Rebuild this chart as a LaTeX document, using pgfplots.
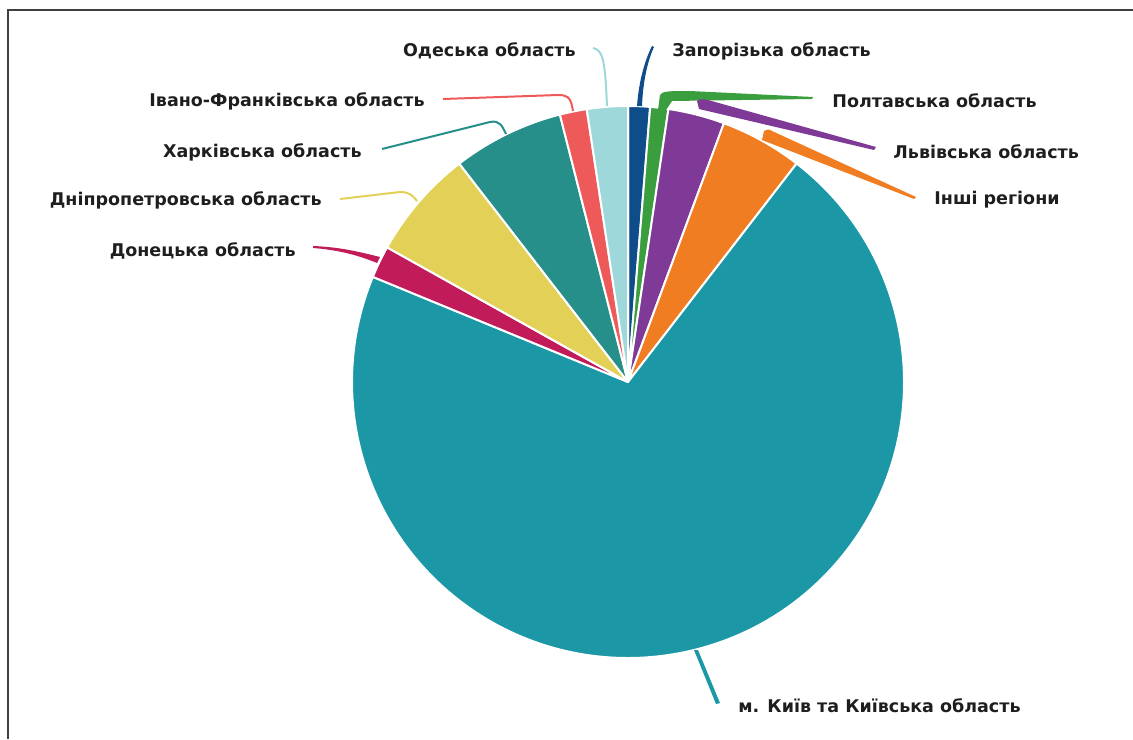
\documentclass[border=0pt]{standalone}
\usepackage{pgfplots}
\pgfplotsset{compat=1.18}
\usepackage{pgfplotstable}
\usepackage{fontspec}
\setmainfont{DejaVu Sans}
\definecolor{cZap}{HTML}{0F4C8A}
\definecolor{cPolt}{HTML}{3A9E3F}
\definecolor{cLviv}{HTML}{7E3A96}
\definecolor{cOther}{HTML}{F07D22}
\definecolor{cKyiv}{HTML}{1B97A6}
\definecolor{cDon}{HTML}{C11B5A}
\definecolor{cDnipro}{HTML}{E2D156}
\definecolor{cKhar}{HTML}{268F8A}
\definecolor{cIF}{HTML}{EE5A5A}
\definecolor{cOdesa}{HTML}{9ED8DA}
\definecolor{txt}{HTML}{1E1E1E}
\pgfplotstableread{
share colour
1.28  cZap
1.06  cPolt
3.31  cLviv
4.81  cOther
70.76 cKyiv
1.89  cDon
6.42  cDnipro
6.50  cKhar
1.58  cIF
2.39  cOdesa
}\piedata
\begin{document}
\begin{tikzpicture}
\begin{axis}[
  hide axis, scale only axis, clip=false,
  width=566.5pt, height=369.5pt,
  xmin=0, xmax=1133, ymin=0, ymax=739, y dir=reverse,
]
\coordinate (TL) at (axis cs:0,0);
\coordinate (BR) at (axis cs:1133,739);
% frame (top and left edges)
\draw[line width=1pt, black!75] (axis cs:1133,10) -- (axis cs:8,10) -- (axis cs:8,739);
% pie
\xdef\cum{0}
\pgfplotstablegetrowsof{\piedata}
\pgfmathtruncatemacro\N{\pgfplotsretval-1}
\foreach \i in {0,...,\N}{
  \pgfplotstablegetelem{\i}{share}\of\piedata
  \let\v\pgfplotsretval
  \pgfplotstablegetelem{\i}{colour}\of\piedata
  \let\c\pgfplotsretval
  \pgfmathsetmacro\a{90-3.6*\cum}
  \pgfmathsetmacro\b{90-3.6*(\cum+\v)}
  \edef\temp{\noexpand\filldraw[fill=\c, draw=white, line width=1pt, line join=round]
    (axis cs:628,382) -- ++(\a:138pt) arc[start angle=\a, end angle=\b, radius=138pt] -- cycle;}
  \temp
  \pgfmathsetmacro\nc{\cum+\v}
  \xdef\cum{\nc}
}
% connectors
\fill[cZap] (axis cs:652,46) .. controls (axis cs:645,60) and (axis cs:639,80) .. (axis cs:637,106)
   -- (axis cs:642,106) .. controls (axis cs:643,80) and (axis cs:648,60) .. (axis cs:654,47) -- cycle;
\fill[cPolt] (axis cs:658,110) -- (axis cs:660,95) .. controls (axis cs:662,91) and (axis cs:670,91) .. (axis cs:690,91)
   -- (axis cs:813,97) -- (axis cs:812,99) -- (axis cs:672,101) -- (axis cs:666,110) -- cycle;
\fill[cLviv] (axis cs:697,101) .. controls (axis cs:699,99) and (axis cs:702,99) .. (axis cs:708,100)
   -- (axis cs:876,147) -- (axis cs:874,150) -- (axis cs:699,109) -- cycle;
\fill[cOther] (axis cs:764,131) .. controls (axis cs:766,129) and (axis cs:769,129) .. (axis cs:772,131)
   -- (axis cs:916,197) -- (axis cs:914,199) -- (axis cs:762,140) -- cycle;
\fill[cKyiv] (axis cs:694,650) -- (axis cs:698,650) -- (axis cs:720,703) -- (axis cs:716,704) -- cycle;
\fill[cDon] (axis cs:313,246) .. controls (axis cs:340,247) and (axis cs:360,252) .. (axis cs:380,257)
   -- (axis cs:377,263) .. controls (axis cs:360,256) and (axis cs:340,250) .. (axis cs:313,248) -- cycle;
\draw[cOdesa, line width=1pt] (axis cs:593,48) .. controls (axis cs:603,50) and (axis cs:605,60) .. (axis cs:607,106);
\draw[cIF, line width=1pt] (axis cs:443,99) -- (axis cs:558,95) .. controls (axis cs:570,95) and (axis cs:571,100) .. (axis cs:573,111);
\draw[cKhar, line width=1pt] (axis cs:382,149) -- (axis cs:490,122) .. controls (axis cs:500,120) and (axis cs:502,126) .. (axis cs:506,134);
\draw[cDnipro, line width=1pt] (axis cs:340,199) -- (axis cs:400,192) .. controls (axis cs:410,192) and (axis cs:413,196) .. (axis cs:417,201);
% labels
\begin{scope}[every node/.style={font=\bfseries\fontsize{8.75}{10.5}\selectfont, text=txt, inner sep=0pt}]
\node[anchor=east] at (axis cs:576,51) {Одеська область};
\node[anchor=east] at (axis cs:425,101) {Івано-Франківська область};
\node[anchor=east] at (axis cs:362,152) {Харківська область};
\node[anchor=east] at (axis cs:322,200) {Дніпропетровська область};
\node[anchor=east] at (axis cs:296,251) {Донецька область};
\node[anchor=west] at (axis cs:672,51) {Запорізька область};
\node[anchor=west] at (axis cs:832,101) {Полтавська область};
\node[anchor=west] at (axis cs:893,152) {Львівська область};
\node[anchor=west] at (axis cs:934,200) {Інші регіони};
\node[anchor=west] at (axis cs:738,706) {м. Київ та Київська область};
\end{scope}
\end{axis}
\pgfresetboundingbox
\path (TL) rectangle (BR);
\end{tikzpicture}
\end{document}
